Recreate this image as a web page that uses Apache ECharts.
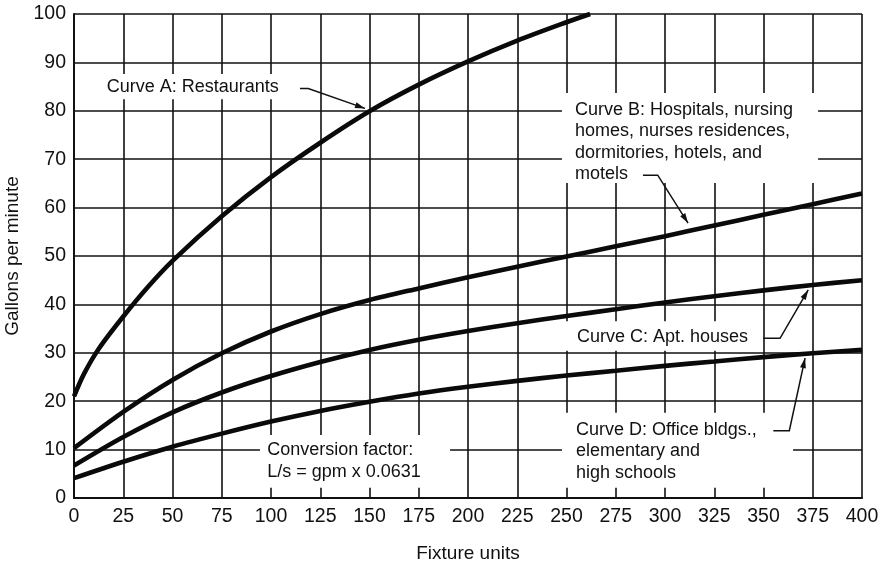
<!DOCTYPE html>
<html>
<head>
<meta charset="utf-8">
<script src="https://cdn.jsdelivr.net/npm/echarts@6/dist/echarts.min.js"></script>
<style>
  html, body { margin: 0; padding: 0; background: #fff; }
  #chart { width: 890px; height: 569px; }
</style>
</head>
<body>
<div id="chart"></div>
<script>
// Design-flow curves: fixture units (x) vs gallons per minute (y)
const fixtureUnits = [0, 25, 50, 75, 100, 125, 150, 175, 200, 225, 250, 275, 300, 325, 350, 375, 400];

const curveA_x = [0, 5, 12.5, 25, 37.5, 50, 75, 100, 125, 150, 175, 200, 225, 250, 262];
const curveA_y = [21, 25.6, 30.8, 37.5, 43.6, 49, 58.2, 66.3, 73.4, 79.9, 85.4, 90.2, 94.5, 98.3, 100];

const curveB_y = [10.3, 17.8, 24.4, 29.9, 34.4, 38.0, 40.9, 43.3, 45.6, 47.8, 49.9, 52.0, 54.1, 56.3, 58.5, 60.7, 62.9];
const curveC_y = [6.7, 12.6, 17.7, 21.8, 25.2, 28.1, 30.6, 32.7, 34.5, 36.1, 37.6, 39.0, 40.4, 41.7, 42.9, 44.0, 45.0];
const curveD_y = [4.1, 7.5, 10.6, 13.3, 15.8, 18.0, 19.9, 21.6, 23.0, 24.2, 25.3, 26.3, 27.3, 28.2, 29.1, 29.9, 30.6];

const xAxisTitle = 'Fixture units';
const yAxisTitle = 'Gallons per minute';

const FONT = '"Liberation Sans", Arial, Helvetica, sans-serif';
const INK = '#111';

const pairs = (xs, ys) => xs.map((x, i) => [x, ys[i]]);

function curve(name, data) {
  return {
    name, type: 'line', data,
    showSymbol: false, smooth: 0.3,
    lineStyle: { color: '#0a0a0a', width: 4.6 },
    z: 5, silent: true
  };
}

const chart = echarts.init(document.getElementById('chart'), null, { renderer: 'canvas' });

chart.setOption({
  animation: false,
  backgroundColor: '#fff',
  grid: { left: 74, right: 28, top: 14, bottom: 71, containLabel: false, outerBoundsMode: 'none' },
  xAxis: {
    type: 'value', min: 0, max: 400, interval: 25,
    name: xAxisTitle, nameLocation: 'middle', nameGap: 46,
    nameTextStyle: { fontFamily: FONT, fontSize: 19, color: INK },
    axisLine: { show: true, lineStyle: { color: INK, width: 2.2 } },
    axisTick: { show: false },
    axisLabel: { fontFamily: FONT, fontSize: 19.5, color: INK, margin: 9 },
    splitLine: { show: true, lineStyle: { color: INK, width: 1.6 } }
  },
  yAxis: {
    type: 'value', min: 0, max: 100, interval: 10,
    name: yAxisTitle, nameLocation: 'middle', nameGap: 49, nameRotate: 90,
    nameTextStyle: { fontFamily: FONT, fontSize: 19, color: INK },
    axisLine: { show: true, lineStyle: { color: INK, width: 2 } },
    axisTick: { show: false },
    axisLabel: { fontFamily: FONT, fontSize: 19.5, color: INK, margin: 8 },
    splitLine: { show: true, lineStyle: { color: INK, width: 1.6 } }
  },
  series: [
    curve('Curve A', pairs(curveA_x, curveA_y)),
    curve('Curve B', pairs(fixtureUnits, curveB_y)),
    curve('Curve C', pairs(fixtureUnits, curveC_y)),
    curve('Curve D', pairs(fixtureUnits, curveD_y))
  ]
});

// Callouts, placed in chart units (fixture units, gpm)
const notes = [
  { lines: ['Curve A: Restaurants'], at: [16.6, 84.9],
    box: [[13.2, 87.6], [110.7, 82.4]],
    leader: [[114.7, 84.6], [118.9, 84.6], [147.7, 80.5]] },
  { lines: ['Curve B: Hospitals, nursing', 'homes, nurses residences,', 'dormitories, hotels, and', 'motels'], at: [254.3, 80.2],
    box: [[247.7, 83.7], [377.7, 65.1]],
    leader: [[288.8, 66.7], [296.3, 66.7], [311.7, 56.8]] },
  { lines: ['Curve C: Apt. houses'], at: [255.3, 33.3],
    box: [[249.5, 36.5], [346, 30.4]],
    leader: [[349.9, 33.0], [358.4, 33.0], [372.7, 43.0]] },
  { lines: ['Curve D: Office bldgs.,', 'elementary and', 'high schools'], at: [254.8, 14.05],
    box: [[247.7, 17.6], [365, 2.1]],
    leader: [[355, 13.9], [363.1, 13.9], [371.1, 28.9]] },
  { lines: ['Conversion factor:', 'L/s = gpm x 0.0631'], at: [98.1, 9.9],
    box: [[94.4, 13.0], [190.9, 2.1]],
    leader: null }
];

const LINE_H = 21.5;
const toPx = p => chart.convertToPixel({ gridIndex: 0 }, p);
const elements = [];

notes.forEach(n => {
  const a = toPx(n.box[0]), b = toPx(n.box[1]);
  elements.push({
    type: 'rect', z: 10, silent: true,
    shape: { x: Math.min(a[0], b[0]), y: Math.min(a[1], b[1]), width: Math.abs(b[0] - a[0]), height: Math.abs(b[1] - a[1]) },
    style: { fill: '#fff' }
  });
  const t = toPx(n.at);
  elements.push({
    type: 'text', z: 12, silent: true,
    x: t[0], y: t[1] - LINE_H / 2,
    style: { text: n.lines.join('\n'), font: '18px ' + FONT, fill: INK, lineHeight: LINE_H, verticalAlign: 'top', align: 'left' }
  });
  if (n.leader) {
    const pts = n.leader.map(toPx);
    elements.push({
      type: 'polyline', z: 12, silent: true,
      shape: { points: pts },
      style: { stroke: INK, lineWidth: 1.5, fill: null }
    });
    const T = pts[pts.length - 1], P = pts[pts.length - 2];
    const dx = T[0] - P[0], dy = T[1] - P[1], len = Math.hypot(dx, dy);
    const ux = dx / len, uy = dy / len, hl = 10, hw = 3;
    const bx = T[0] - ux * hl, by = T[1] - uy * hl;
    elements.push({
      type: 'polygon', z: 12, silent: true,
      shape: { points: [T, [bx - uy * hw, by + ux * hw], [bx + uy * hw, by - ux * hw]] },
      style: { fill: INK }
    });
  }
});

chart.setOption({ graphic: { elements } });
</script>
</body>
</html>
